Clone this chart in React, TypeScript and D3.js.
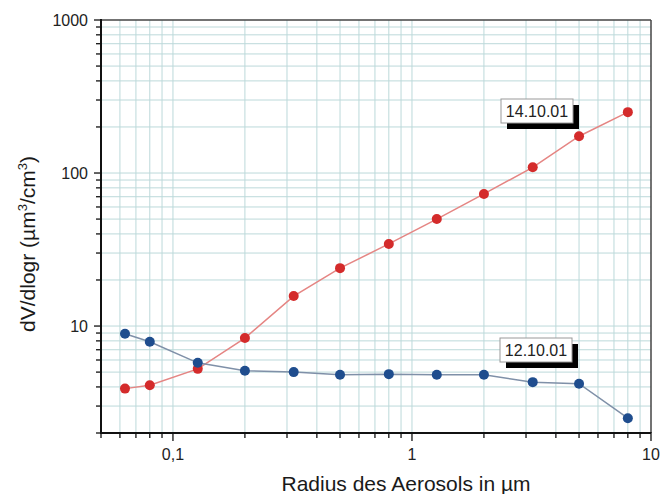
import React from "react";
import * as d3 from "d3";

// Aerosol volume size distributions for two measurement days
const radius = [0.063, 0.08, 0.127, 0.2, 0.32, 0.5, 0.8, 1.27, 2, 3.2, 5, 8];
const day14 = [3.9, 4.1, 5.25, 8.35, 15.7, 23.9, 34.4, 50, 73, 109, 174, 250];
const day12 = [8.9, 7.9, 5.75, 5.1, 5.0, 4.8, 4.85, 4.8, 4.8, 4.3, 4.2, 2.5];
const seriesNames = ["14.10.01", "12.10.01"];

const xMajorTicks = [0.1, 1, 10];
const xMajorLabels = ["0,1", "1", "10"];
const yMajorTicks = [10, 100, 1000];
const yMajorLabels = ["10", "100", "1000"];

const W = 669;
const H = 494;
const M = { left: 101, right: 651, top: 20, bottom: 433 };
const FONT = "'Liberation Sans', Arial, Helvetica, sans-serif";

export default function App() {
  const x = d3.scaleLog().domain([0.05, 10]).range([M.left, M.right]);
  const y = d3.scaleLog().domain([2, 1000]).range([M.bottom, M.top]);

  const xMinor = x.ticks().filter((v) => v > 0.05 && v < 10);
  const yMinor = y.ticks().filter((v) => v > 2 && v < 1000);
  const isMajor = (v: number) => Math.abs(Math.log10(v) - Math.round(Math.log10(v))) < 1e-6;

  const line = d3
    .line<number>()
    .x((_, i) => x(radius[i]))
    .y((d) => y(d));

  const series = [
    { name: seriesNames[0], values: day14, line: "#e58583", dot: "#d42b2b" },
    { name: seriesNames[1], values: day12, line: "#7f90a8", dot: "#1f4d8e" },
  ];

  // annotation boxes with drop shadow
  const boxes = [
    { name: seriesNames[0], left: 501, top: 99 },
    { name: seriesNames[1], left: 500, top: 338 },
  ];
  const boxW = 72;
  const boxH = 24;

  return (
    <div style={{ position: "fixed", left: 0, top: 0 }}>
      <svg width={W} height={H} style={{ display: "block", background: "#fff" }}>
        {/* grid */}
        <g stroke="#bcd9da" strokeWidth={1}>
          {xMinor.map((v) => (
            <line key={"gx" + v} x1={x(v)} x2={x(v)} y1={M.top} y2={M.bottom} />
          ))}
          {yMinor.map((v) => (
            <line key={"gy" + v} x1={M.left} x2={M.right} y1={y(v)} y2={y(v)} />
          ))}
        </g>

        {/* frame */}
        <line x1={M.left} x2={M.right} y1={M.top} y2={M.top} stroke="#444" strokeWidth={1.5} />
        <line x1={M.right} x2={M.right} y1={M.top} y2={M.bottom} stroke="#444" strokeWidth={1.5} />
        <line x1={M.left} x2={M.left} y1={M.top - 1} y2={M.bottom + 1} stroke="#111" strokeWidth={2} />
        <line x1={M.left - 1} x2={M.right} y1={M.bottom} y2={M.bottom} stroke="#111" strokeWidth={2} />

        {/* ticks */}
        <g stroke="#111" strokeWidth={1.3}>
          {y.ticks().map((v) => (
            <line
              key={"ty" + v}
              x1={M.left - (isMajor(v) ? 7 : 5)}
              x2={M.left + 1}
              y1={y(v)}
              y2={y(v)}
            />
          ))}
          {x.ticks().map((v) => (
            <line
              key={"tx" + v}
              x1={x(v)}
              x2={x(v)}
              y1={M.bottom - 1}
              y2={M.bottom + (isMajor(v) ? 8 : 5)}
            />
          ))}
        </g>

        {/* tick labels */}
        <g fontFamily={FONT} fontSize={16} fill="#222">
          {yMajorTicks.map((v, i) => (
            <text key={"ly" + v} x={88} y={y(v)} dy="0.35em" textAnchor="end">
              {yMajorLabels[i]}
            </text>
          ))}
          {xMajorTicks.map((v, i) => (
            <text key={"lx" + v} x={x(v)} y={460} textAnchor="middle">
              {xMajorLabels[i]}
            </text>
          ))}
        </g>

        {/* axis titles */}
        <text
          x={406}
          y={491}
          textAnchor="middle"
          fontFamily={FONT}
          fontSize={21}
          fill="#1a1a1a"
        >
          Radius des Aerosols in µm
        </text>
        <text
          transform="translate(35,244) rotate(-90)"
          textAnchor="middle"
          fontFamily={FONT}
          fontSize={21}
          fill="#1a1a1a"
        >
          dV/dlogr (µm<tspan dy={-8} fontSize={13}>3</tspan>
          <tspan dy={8}>/cm</tspan>
          <tspan dy={-8} fontSize={13}>3</tspan>
          <tspan dy={8}>)</tspan>
        </text>

        {/* series */}
        {series.map((s) => (
          <g key={s.name}>
            <path d={line(s.values) ?? ""} fill="none" stroke={s.line} strokeWidth={1.5} />
            {s.values.map((v, i) => (
              <circle key={i} cx={x(radius[i])} cy={y(v)} r={5} fill={s.dot} />
            ))}
          </g>
        ))}

        {/* series labels */}
        {boxes.map((b) => (
          <g key={b.name}>
            <rect x={b.left + 6} y={b.top + 6} width={boxW} height={boxH} fill="#000" />
            <rect
              x={b.left}
              y={b.top}
              width={boxW}
              height={boxH}
              fill="#fff"
              stroke="#999"
              strokeWidth={1}
            />
            <text
              x={b.left + boxW / 2}
              y={b.top + boxH / 2}
              dy="0.36em"
              textAnchor="middle"
              fontFamily={FONT}
              fontSize={16}
              fill="#222"
            >
              {b.name}
            </text>
          </g>
        ))}
      </svg>
    </div>
  );
}
